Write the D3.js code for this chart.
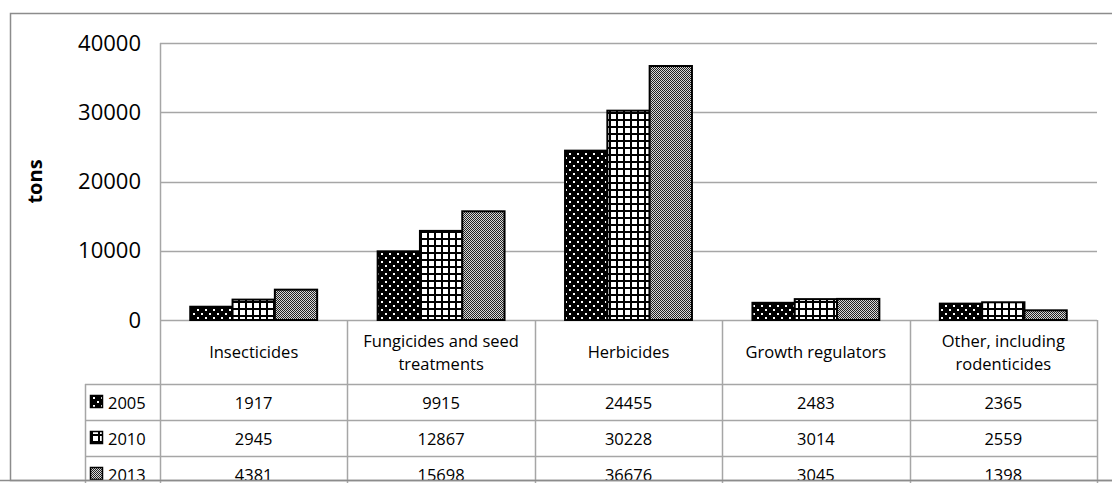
<!DOCTYPE html>
<html>
<head>
<meta charset="utf-8">
<script src="https://cdn.jsdelivr.net/npm/d3@7"></script>
<style>
  html, body { margin: 0; padding: 0; background: #fff; }
  svg { display: block; font-family: "Open Sans", "Noto Sans", sans-serif; }
</style>
</head>
<body>
<svg id="chart" width="1112" height="483"></svg>
<script>
// Pesticide use by category (tons)
const categories = ["Insecticides", "Fungicides and seed treatments", "Herbicides", "Growth regulators", "Other, including rodenticides"];
const categoryLines = [["Insecticides"], ["Fungicides and seed", "treatments"], ["Herbicides"], ["Growth regulators"], ["Other, including", "rodenticides"]];
const years = ["2005", "2010", "2013"];
const values2005 = [1917, 9915, 24455, 2483, 2365];
const values2010 = [2945, 12867, 30228, 3014, 2559];
const values2013 = [4381, 15698, 36676, 3045, 1398];
const yTicks = [0, 10000, 20000, 30000, 40000];

const seriesValues = [values2005, values2010, values2013];

const svg = d3.select("#chart");
const gridColor = "#a6a6a6";
const tableFont = 16.5;

// ---- fill patterns ----
const defs = svg.append("defs");
// 2005: black with white dots
const p1 = defs.append("pattern").attr("id", "pat2005").attr("patternUnits", "userSpaceOnUse")
  .attr("width", 8).attr("height", 8);
p1.append("rect").attr("width", 8).attr("height", 8).attr("fill", "#000");
p1.append("rect").attr("x", 1).attr("y", 1).attr("width", 2).attr("height", 2).attr("fill", "#fff");
p1.append("rect").attr("x", 5).attr("y", 5).attr("width", 2).attr("height", 2).attr("fill", "#fff");
// 2010: white with black grid
const p2 = defs.append("pattern").attr("id", "pat2010").attr("patternUnits", "userSpaceOnUse")
  .attr("width", 7).attr("height", 7);
p2.append("rect").attr("width", 7).attr("height", 7).attr("fill", "#fff");
p2.append("rect").attr("x", 0).attr("y", 0).attr("width", 2).attr("height", 7).attr("fill", "#000");
p2.append("rect").attr("x", 0).attr("y", 0).attr("width", 7).attr("height", 2).attr("fill", "#000");
// 2013: fine grey checker
const p3 = defs.append("pattern").attr("id", "pat2013").attr("patternUnits", "userSpaceOnUse")
  .attr("width", 2).attr("height", 2);
p3.append("rect").attr("width", 2).attr("height", 2).attr("fill", "#d8d8d8");
p3.append("rect").attr("x", 0).attr("y", 0).attr("width", 1).attr("height", 1).attr("fill", "#222");
p3.append("rect").attr("x", 1).attr("y", 1).attr("width", 1).attr("height", 1).attr("fill", "#222");
const fills = ["url(#pat2005)", "url(#pat2010)", "url(#pat2013)"];

// ---- layout ----
const plotLeft = 160, plotRight = 1097, plotTop = 43, plotBottom = 320;
const tableLeft = 85;
const headerBottom = 384;
const rowH = 36;

// outer frame
svg.append("rect").attr("x", 10.5).attr("y", 13.5).attr("width", 1120).attr("height", 467)
  .attr("fill", "none").attr("stroke", "#8c8c8c").attr("stroke-width", 1.5);

const y = d3.scaleLinear().domain([0, 40000]).range([plotBottom, plotTop]);
const x = d3.scaleBand().domain(categories).range([plotLeft, plotRight]).padding(0);
const xInner = d3.scaleBand().domain(years).range([0, x.bandwidth()]).paddingInner(0).paddingOuter(0.715);

// gridlines
svg.append("g").selectAll("line").data(yTicks).join("line")
  .attr("x1", plotLeft).attr("x2", plotRight)
  .attr("y1", d => Math.round(y(d)) + 0.5).attr("y2", d => Math.round(y(d)) + 0.5)
  .attr("stroke", gridColor).attr("stroke-width", 1.5);

// y axis labels
const yAxis = d3.axisLeft(y).tickValues(yTicks).tickSize(0).tickPadding(19).tickFormat(d3.format("d"));
const gy = svg.append("g").attr("transform", `translate(${plotLeft},0)`).call(yAxis);
gy.select(".domain").remove();
gy.selectAll("text").attr("font-size", 22).attr("fill", "#000")
  .attr("font-family", "'Open Sans', sans-serif");

// y axis title
svg.append("text").attr("transform", `translate(42,${(plotTop + plotBottom) / 2}) rotate(-90)`)
  .attr("text-anchor", "middle").attr("font-size", 20).attr("font-weight", "bold").text("tons");

// bars
years.forEach((yr, si) => {
  svg.append("g").selectAll("rect").data(categories).join("rect")
    .attr("x", (c) => x(c) + xInner(yr))
    .attr("y", (c, i) => y(seriesValues[si][i]))
    .attr("width", xInner.bandwidth())
    .attr("height", (c, i) => y(0) - y(seriesValues[si][i]))
    .attr("fill", fills[si]).attr("stroke", "#000").attr("stroke-width", 2);
});

// ---- data table ----
const tbl = svg.append("g").attr("stroke", gridColor).attr("stroke-width", 1.5);
// vertical lines at column boundaries
const colEdges = categories.map(c => x(c)).concat([plotRight]);
tbl.selectAll("line.v").data(colEdges).join("line").attr("class", "v")
  .attr("x1", d => Math.round(d) + 0.5).attr("x2", d => Math.round(d) + 0.5)
  .attr("y1", (d, i) => i === 0 ? plotTop : plotBottom).attr("y2", 483);
tbl.append("line").attr("x1", tableLeft + 0.5).attr("x2", tableLeft + 0.5).attr("y1", headerBottom).attr("y2", 483);
// horizontal row lines
const rowLines = [0, 1, 2].map(i => headerBottom + i * rowH);
tbl.selectAll("line.h").data(rowLines).join("line").attr("class", "h")
  .attr("x1", tableLeft).attr("x2", plotRight)
  .attr("y1", d => d + 0.5).attr("y2", d => d + 0.5);

// category header text
const header = svg.append("g").attr("font-size", tableFont).attr("fill", "#000").attr("text-anchor", "middle");
categories.forEach((c, i) => {
  const lines = categoryLines[i];
  const cx = x(c) + x.bandwidth() / 2;
  const cy = (plotBottom + headerBottom) / 2;
  lines.forEach((ln, j) => {
    header.append("text").attr("x", cx)
      .attr("y", cy + (j - (lines.length - 1) / 2) * 23 + 6)
      .text(ln);
  });
});

// rows: legend key + values
years.forEach((yr, si) => {
  const top = headerBottom + si * rowH;
  const mid = top + rowH / 2;
  svg.append("rect").attr("x", 90.5).attr("y", mid - 6.5).attr("width", 12).attr("height", 12)
    .attr("fill", fills[si]).attr("stroke", "#000").attr("stroke-width", 1.5);
  svg.append("text").attr("x", 108).attr("y", mid + 6.5).attr("font-size", tableFont).text(yr);
  svg.append("g").selectAll("text").data(categories).join("text")
    .attr("x", c => x(c) + x.bandwidth() / 2).attr("y", mid + 6.5)
    .attr("text-anchor", "middle").attr("font-size", tableFont)
    .text((c, i) => seriesValues[si][i]);
});

// bottom edge of the frame
svg.append("line").attr("x1", 0).attr("x2", 1112).attr("y1", 480.5).attr("y2", 480.5)
  .attr("stroke", "#8c8c8c").attr("stroke-width", 1.5);
</script>
</body>
</html>
